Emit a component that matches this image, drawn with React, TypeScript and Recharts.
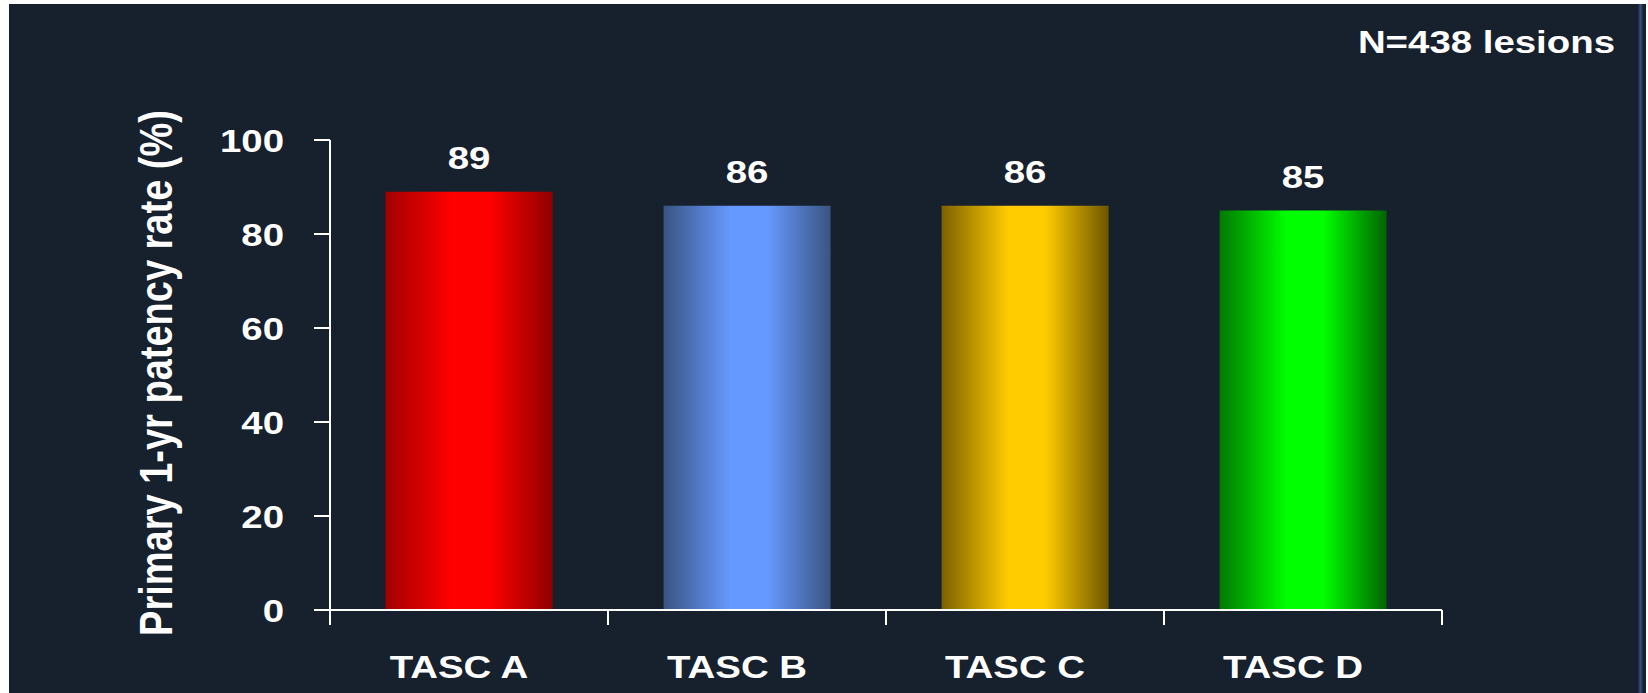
import React from "react"
import { BarChart, Bar, XAxis, YAxis, Cell, LabelList } from "recharts"

// TASC lesion classes and their primary 1-year patency (%)
const categories = ["TASC A", "TASC B", "TASC C", "TASC D"]
const patency = [89, 86, 86, 85]
const yTicks = [0, 20, 40, 60, 80, 100]

const W = 1648
const H = 693
const BAND = (1442 - 330) / categories.length
const FONT = "'Liberation Sans', Arial, sans-serif"
const INK = "#ffffff"
const STRETCH = 1.2 // slide text is drawn a little wider than normal

// horizontal "cylinder" shading for each bar: dark edge, bright core, dark edge
const shades = [
  { edge: "#a30000", mid: "#ff0000", far: "#8f0000" },
  { edge: "#3a5482", mid: "#6699ff", far: "#3a5482" },
  { edge: "#7d6100", mid: "#ffcc00", far: "#6e5500" },
  { edge: "#007a00", mid: "#00ff00", far: "#006400" },
]

const data = categories.map((name, i) => ({ name, value: patency[i] }))

function YTick(props: any) {
  const { x, y, payload } = props
  return (
    <g transform={`translate(${x},${y}) scale(${STRETCH},1)`}>
      <text x={0} y={0} dy="0.36em" textAnchor="end" fill={INK} fontFamily={FONT} fontWeight="bold" fontSize={32}>
        {payload.value}
      </text>
    </g>
  )
}

function XTick(props: any) {
  const { x, y, payload, index } = props
  const last = index === categories.length - 1
  return (
    <g>
      <line x1={x - BAND / 2} x2={x - BAND / 2} y1={y - 15} y2={y} stroke={INK} strokeWidth={2} />
      {last && <line x1={x + BAND / 2} x2={x + BAND / 2} y1={y - 15} y2={y} stroke={INK} strokeWidth={2} />}
      <g transform={`translate(${x - 10},${y + 53}) scale(${STRETCH},1)`}>
        <text x={0} y={0} textAnchor="middle" fill={INK} fontFamily={FONT} fontWeight="bold" fontSize={32}>
          {payload.value}
        </text>
      </g>
    </g>
  )
}

function ValueLabel(props: any) {
  const { x, y, width, value } = props
  return (
    <g transform={`translate(${x + width / 2},${y - 23}) scale(${STRETCH},1)`}>
      <text x={0} y={0} textAnchor="middle" fill={INK} fontFamily={FONT} fontWeight="bold" fontSize={32}>
        {value}
      </text>
    </g>
  )
}

export default function App() {
  return (
    <div style={{ position: "fixed", left: 0, top: 0, width: W, height: H, background: "#ffffff", overflow: "hidden" }}>
      {/* slide panel */}
      <div style={{ position: "absolute", left: 9, top: 4, width: W - 11, height: H - 4, background: "#17202d" }} />
      <div style={{ position: "absolute", left: 1638, top: 4, width: 5, height: H - 4, background: "linear-gradient(90deg,#1c2a40,#34507a,#1a2638)" }} />

      <svg width={0} height={0} style={{ position: "absolute" }}>
        <defs>
          {shades.map((s, i) => (
            <linearGradient key={i} id={`bar-${i}`} x1="0" y1="0" x2="1" y2="0">
              <stop offset="0%" stopColor={s.edge} />
              <stop offset="40%" stopColor={s.mid} />
              <stop offset="62%" stopColor={s.mid} />
              <stop offset="100%" stopColor={s.far} />
            </linearGradient>
          ))}
        </defs>
      </svg>

      <div style={{ position: "absolute", left: 0, top: 0 }}>
        <BarChart
          width={W}
          height={H}
          data={data}
          margin={{ top: 140, right: 206, bottom: 0, left: 0 }}
          barCategoryGap="20%"
        >
          <XAxis
            dataKey="name"
            height={83}
            axisLine={{ stroke: INK, strokeWidth: 2 }}
            tickLine={false}
            tickSize={15}
            tickMargin={0}
            tick={(p: any) => <XTick {...p} />}
            interval={0}
          />
          <YAxis
            type="number"
            domain={[0, 100]}
            ticks={yTicks}
            width={330}
            tickSize={16}
            tickMargin={30}
            axisLine={{ stroke: INK, strokeWidth: 2 }}
            tickLine={{ stroke: INK, strokeWidth: 2 }}
            tick={(p: any) => <YTick {...p} />}
            interval={0}
          />
          <Bar dataKey="value" isAnimationActive={false}>
            {data.map((d, i) => (
              <Cell key={d.name} fill={`url(#bar-${i})`} />
            ))}
            <LabelList dataKey="value" content={(p: any) => <ValueLabel {...p} />} />
          </Bar>
        </BarChart>
      </div>

      <svg width={W} height={H} style={{ position: "absolute", left: 0, top: 0, pointerEvents: "none" }}>
        <g transform={`translate(172,373) scale(${STRETCH},1) rotate(-90)`}>
          <text x={0} y={0} textAnchor="middle" fill={INK} fontFamily={FONT} fontWeight="bold" fontSize={38}>
            Primary 1-yr patency rate (%)
          </text>
        </g>
        <g transform={`translate(1615,53) scale(${STRETCH},1)`}>
          <text x={0} y={0} textAnchor="end" fill={INK} fontFamily={FONT} fontWeight="bold" fontSize={32}>
            N=438 lesions
          </text>
        </g>
      </svg>
    </div>
  )
}
